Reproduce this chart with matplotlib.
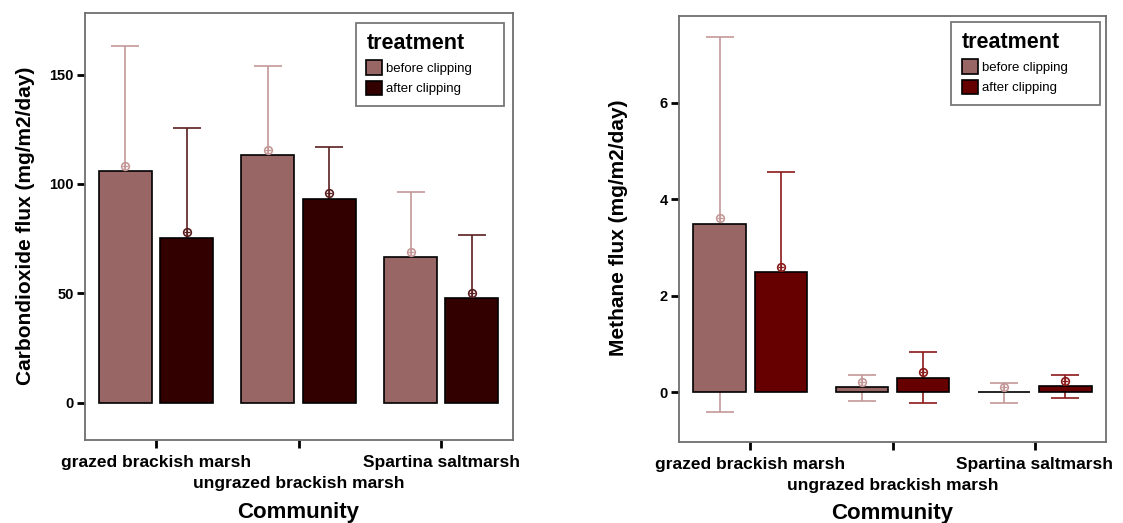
import numpy as np
import matplotlib
matplotlib.use("Agg")
import matplotlib.pyplot as plt

plt.rcParams['font.family'] = ['Liberation Sans', 'DejaVu Sans']

# Data
communities = ['grazed brackish marsh', 'ungrazed brackish marsh', 'Spartina saltmarsh']
treatments = ['before clipping', 'after clipping']

# Carbon dioxide flux: bar height, mean marker, error bar ends
co2_bar_before = [106.0, 113.4, 66.7]
co2_bar_after = [75.5, 93.3, 48.1]
co2_mean_before = [108.4, 115.7, 69.1]
co2_mean_after = [78.0, 95.7, 50.4]
co2_hi_before = [163.0, 154.0, 96.3]
co2_hi_after = [125.7, 116.9, 76.7]
co2_lo_before = [53.8, 77.4, 41.9]
co2_lo_after = [30.3, 74.5, 24.1]

# Methane flux
ch4_bar_before = [3.49, 0.095, 0.0]
ch4_bar_after = [2.49, 0.30, 0.12]
ch4_mean_before = [3.60, 0.20, 0.10]
ch4_mean_after = [2.59, 0.41, 0.23]
ch4_hi_before = [7.35, 0.36, 0.18]
ch4_hi_after = [4.56, 0.83, 0.36]
ch4_lo_before = [-0.41, -0.19, -0.22]
ch4_lo_after = [0.62, -0.22, -0.12]

co2_yticks = [0, 50, 100, 150]
ch4_yticks = [0, 2, 4, 6]

W, H = 1123, 523
fig = plt.figure(figsize=(W / 100, H / 100), dpi=100)

x = np.arange(len(communities))
width = 0.37
off = 0.215


def panel(ax, bars, means, his, los, colors, ecolors, ylim, yticks, ylabel, ylab_x, leg_box):
    for k in range(2):
        pos = x + (-off if k == 0 else off)
        m = np.array(means[k])
        yerr = [m - np.array(los[k]), np.array(his[k]) - m]
        ax.errorbar(pos, m, yerr=yerr, fmt='none', ecolor=ecolors[k],
                    elinewidth=1.2, capsize=10, capthick=1.2, zorder=1)
        ax.bar(pos, bars[k], width=width, color=colors[k], edgecolor='black',
               linewidth=1.2, zorder=2, label=treatments[k])
        ax.plot(pos, m, 'o', ms=5.5, mfc='none', mec=ecolors[k], mew=1.2, zorder=3)
        ax.plot(pos, m, '+', ms=5, mec=ecolors[k], mew=0.9, zorder=3)

    ax.set_xlim(-0.5, 2.5)
    ax.set_ylim(*ylim)
    ax.set_yticks(yticks)
    ax.set_yticklabels([str(v) for v in yticks], fontsize=10.5, fontweight='bold')
    ax.set_xticks(x)
    ax.set_xticklabels(communities, fontsize=12.5, fontweight='bold')
    ax.tick_params(axis='both', direction='out', length=6, width=2, color='black')
    ax.tick_params(axis='x', pad=5)
    ax.tick_params(axis='y', pad=2)
    # stagger the middle category label onto a second row
    ax.xaxis.get_major_ticks()[1].set_pad(20)
    for s in ax.spines.values():
        s.set_color('#6e6e6e')
        s.set_linewidth(1.3)

    ax.text(ylab_x, 0.503, ylabel, transform=ax.transAxes, rotation=90,
            ha='center', va='center', fontsize=15, fontweight='bold')
    ax.text(0.5, -0.145, 'Community', transform=ax.transAxes,
            ha='center', va='top', fontsize=16, fontweight='bold')

    leg = ax.legend(title='treatment', loc='upper left', bbox_to_anchor=leg_box,
                    mode='expand', borderaxespad=0, fancybox=False, edgecolor='#555555',
                    fontsize=9.5, title_fontproperties={'weight': 'bold', 'size': 15.5},
                    alignment='left', handlelength=1.2, handleheight=1.3,
                    handletextpad=0.3, labelspacing=0.45, borderpad=0.8)
    leg.get_frame().set_linewidth(1.3)


ax1 = fig.add_axes([84.6 / W, 1 - 440 / H, (512.5 - 84.6) / W, (440 - 13.3) / H])
panel(ax1, [co2_bar_before, co2_bar_after], [co2_mean_before, co2_mean_after],
      [co2_hi_before, co2_hi_after], [co2_lo_before, co2_lo_after],
      ['#996666', '#330000'], ['#c49898', '#5a1f1f'], (-17, 178), co2_yticks,
      'Carbondioxide flux (mg/m2/day)', -0.137, (0.634, 0.0, 0.346, 0.978))

ax2 = fig.add_axes([679.2 / W, 1 - 441.7 / H, (1105.8 - 679.2) / W, (441.7 - 15.7) / H])
panel(ax2, [ch4_bar_before, ch4_bar_after], [ch4_mean_before, ch4_mean_after],
      [ch4_hi_before, ch4_hi_after], [ch4_lo_before, ch4_lo_after],
      ['#996666', '#660000'], ['#c49898', '#8b1a1a'], (-1.03, 7.8), ch4_yticks,
      'Methane flux (mg/m2/day)', -0.143, (0.638, 0.0, 0.348, 0.986))

fig.savefig('out.png', dpi=100)
